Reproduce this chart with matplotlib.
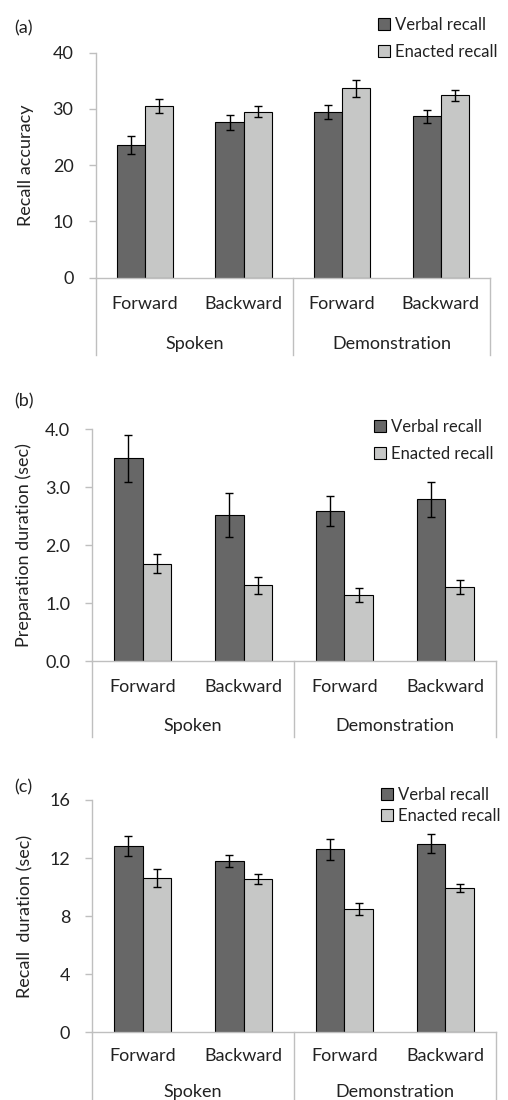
import matplotlib
matplotlib.use('Agg')
import matplotlib.pyplot as plt
import numpy as np

plt.rcParams.update({
    "font.family": ["Lato", "DejaVu Sans"],
    "font.size": 13,
    "text.color": "#222222",
    "axes.labelcolor": "#222222",
    "ytick.color": "#bfbfbf",
    "ytick.labelcolor": "#222222",
})

conditions = ['Forward', 'Backward', 'Forward', 'Backward']
groups = ['Spoken', 'Demonstration']
series = ['Verbal recall', 'Enacted recall']

# (a) recall accuracy
acc_verbal = [23.6, 27.6, 29.4, 28.7]
acc_verbal_err = [1.6, 1.4, 1.25, 1.2]
acc_enacted = [30.5, 29.5, 33.7, 32.4]
acc_enacted_err = [1.3, 1.0, 1.5, 1.05]

# (b) preparation duration
prep_verbal = [3.50, 2.52, 2.59, 2.79]
prep_verbal_err = [0.41, 0.385, 0.26, 0.305]
prep_enacted = [1.68, 1.31, 1.14, 1.28]
prep_enacted_err = [0.16, 0.145, 0.125, 0.12]

# (c) recall duration
dur_verbal = [12.83, 11.78, 12.6, 12.99]
dur_verbal_err = [0.67, 0.4, 0.72, 0.67]
dur_enacted = [10.63, 10.58, 8.49, 9.92]
dur_enacted_err = [0.59, 0.34, 0.39, 0.28]

DARK = '#676767'
LIGHT = '#c6c7c6'
AXIS = '#bfbfbf'
W, H = 508, 1100

fig = plt.figure(figsize=(W / 100, H / 100), dpi=100)


def panel(rect_px, verbal, verr, enacted, eerr, ylim, yticks, fmt, ylabel,
          tag, tag_y, leg_xy, leg_space, ylabel_x, div_len, cond_off, grp_off):
    left, top, right, bottom = rect_px
    hpx = bottom - top
    ax = fig.add_axes([left / W, 1 - bottom / H, (right - left) / W, hpx / H])
    x = np.arange(len(conditions)) + 0.5
    bw = 0.285
    ax.bar(x - bw / 2, verbal, bw, color=DARK, edgecolor='black', linewidth=0.8,
           label=series[0], zorder=2)
    ax.bar(x + bw / 2, enacted, bw, color=LIGHT, edgecolor='black', linewidth=0.8,
           label=series[1], zorder=2)
    ek = dict(fmt='none', ecolor='black', elinewidth=1, capsize=3, capthick=1, zorder=3)
    ax.errorbar(x - bw / 2, verbal, yerr=verr, **ek)
    ax.errorbar(x + bw / 2, enacted, yerr=eerr, **ek)

    ax.set_xlim(0, 4)
    ax.set_ylim(*ylim)
    ax.set_yticks(yticks)
    ax.set_yticklabels([fmt.format(t) for t in yticks])
    ax.set_xticks([])
    for s in ['top', 'right']:
        ax.spines[s].set_visible(False)
    for s in ['left', 'bottom']:
        ax.spines[s].set_color(AXIS)
        ax.spines[s].set_linewidth(1)
    ax.tick_params(axis='y', length=5, width=1, pad=11, labelsize=13)

    tr = ax.get_xaxis_transform()
    for xd in [0, 2, 4]:
        ax.plot([xd, xd], [0, -div_len / hpx], color=AXIS, lw=1,
                transform=tr, clip_on=False)
    for xi, c in zip(x, conditions):
        ax.text(xi, -cond_off / hpx, c, transform=tr, ha='center', va='center')
    for gi, g in enumerate(groups):
        ax.text(1 + 2 * gi, -grp_off / hpx, g, transform=tr, ha='center', va='center')

    fig.text(ylabel_x / W, 1 - (top + bottom) / 2 / H, ylabel, rotation=90,
             ha='center', va='center')
    fig.text(14 / W, 1 - tag_y / H, tag, ha='left', va='center')

    ax.legend(loc='upper left', bbox_to_anchor=(leg_xy[0] / W, 1 - leg_xy[1] / H),
              bbox_transform=fig.transFigure, frameon=False, fontsize=12,
              handlelength=0.7, handleheight=0.7, handletextpad=0.3,
              labelspacing=leg_space, borderpad=0, borderaxespad=0)
    return ax


panel((95.7, 52.7, 490, 277.7), acc_verbal, acc_verbal_err, acc_enacted,
      acc_enacted_err, (0, 40), [0, 10, 20, 30, 40], '{:.0f}', 'Recall accuracy',
      '(a)', 28, (378, 17), 0.65, 26, 77, 26, 66)
panel((92.3, 429.3, 495.7, 661), prep_verbal, prep_verbal_err, prep_enacted,
      prep_enacted_err, (0, 4), [0, 1, 2, 3, 4], '{:.1f}',
      'Preparation duration (sec)', '(b)', 401, (374, 419), 0.65, 24, 76, 26, 65)
panel((92.3, 800, 495.7, 1032.3), dur_verbal, dur_verbal_err, dur_enacted,
      dur_enacted_err, (0, 16), [0, 4, 8, 12, 16], '{:.0f}',
      'Recall  duration (sec)', '(c)', 787, (381, 787), 0.3, 25, 80, 24, 60)

fig.savefig('out.png', dpi=100, facecolor='white')
